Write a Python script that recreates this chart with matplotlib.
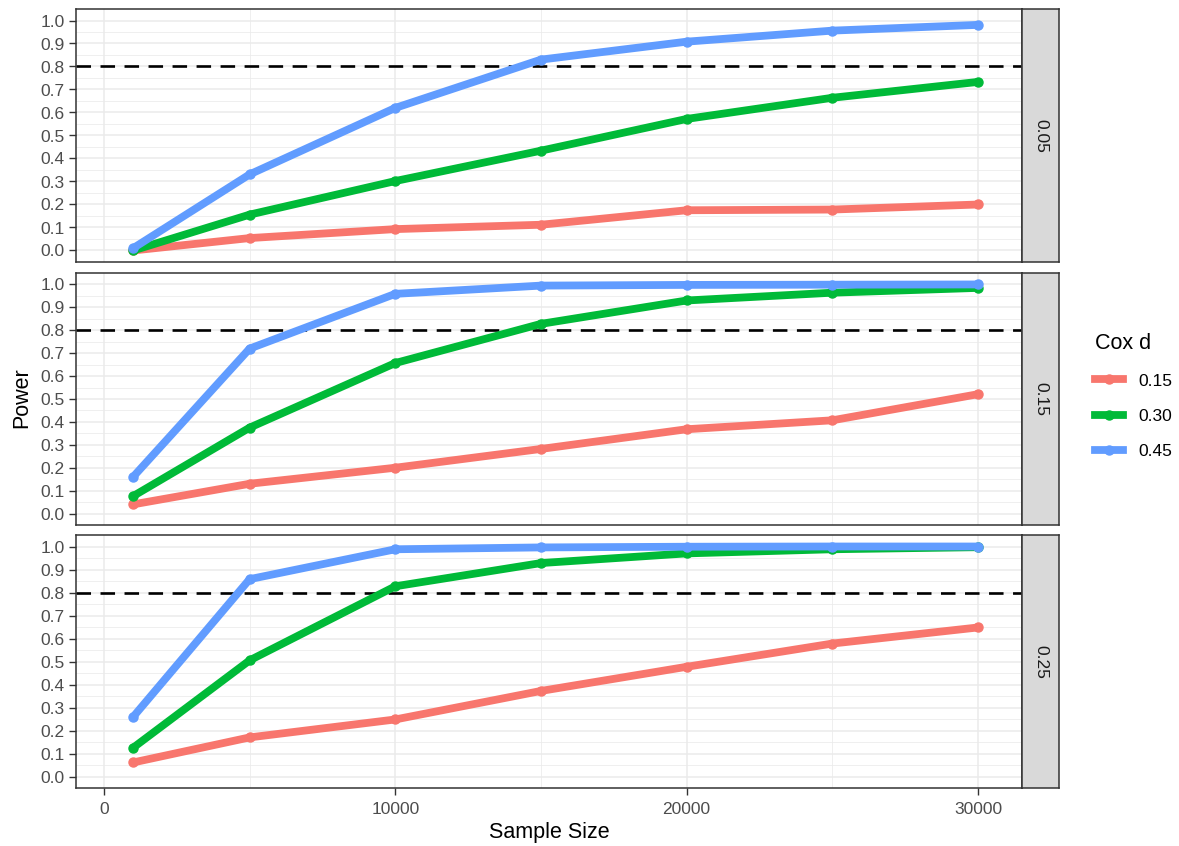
import matplotlib
matplotlib.use("Agg")
import matplotlib.pyplot as plt
from matplotlib.lines import Line2D
from matplotlib.ticker import MultipleLocator, FixedLocator

plt.rcParams['font.family'] = ['Liberation Sans', 'DejaVu Sans']

sample_size = [1000, 5000, 10000, 15000, 20000, 25000, 30000]
cox_d_labels = ["0.15", "0.30", "0.45"]
facet_labels = ["0.05", "0.15", "0.25"]
colors = ["#F8766D", "#00BA38", "#619CFF"]

# power for facet 0.05
p05_d015 = [0.00, 0.054, 0.093, 0.112, 0.175, 0.178, 0.200]
p05_d030 = [0.00, 0.156, 0.302, 0.434, 0.572, 0.664, 0.733]
p05_d045 = [0.01, 0.331, 0.620, 0.830, 0.908, 0.956, 0.981]
# power for facet 0.15
p15_d015 = [0.040, 0.130, 0.200, 0.282, 0.368, 0.407, 0.521]
p15_d030 = [0.076, 0.375, 0.657, 0.828, 0.930, 0.964, 0.985]
p15_d045 = [0.160, 0.720, 0.959, 0.995, 0.998, 0.999, 1.000]
# power for facet 0.25
p25_d015 = [0.061, 0.170, 0.248, 0.372, 0.477, 0.578, 0.648]
p25_d030 = [0.125, 0.505, 0.827, 0.928, 0.970, 0.988, 0.997]
p25_d045 = [0.259, 0.858, 0.988, 0.996, 0.999, 1.000, 1.000]

power = [
    [p05_d015, p05_d030, p05_d045],
    [p15_d015, p15_d030, p15_d045],
    [p25_d015, p25_d030, p25_d045],
]
threshold = 0.8

W, H = 1179, 846
fig = plt.figure(figsize=(W / 100, H / 100), dpi=100)

left_px, right_px = 76, 1022
strip_w = 37
panels_px = [(9, 262), (273, 525), (535, 788)]

grid_col = "#EBEBEB"
border_col = "#333333"
tick_col = "#4D4D4D"
fs_tick = 12.5
fs_title = 15.5

axes = []
for i, (t, b) in enumerate(panels_px):
    ax = fig.add_axes([left_px / W, 1 - b / H, (right_px - left_px) / W, (b - t) / H])
    axes.append(ax)
    ax.set_xlim(-960, 31510)
    ax.set_ylim(-0.05, 1.05)
    ax.xaxis.set_major_locator(FixedLocator([0, 10000, 20000, 30000]))
    ax.xaxis.set_minor_locator(FixedLocator([5000, 15000, 25000]))
    ax.yaxis.set_major_locator(MultipleLocator(0.1))
    ax.yaxis.set_minor_locator(FixedLocator([0.05 + 0.1 * k for k in range(10)]))
    ax.grid(which='major', color=grid_col, linewidth=1.1, zorder=0)
    ax.grid(which='minor', color=grid_col, linewidth=0.55, zorder=0)
    ax.set_axisbelow(True)
    for sp in ax.spines.values():
        sp.set_color(border_col)
        sp.set_linewidth(1.1)
    ax.tick_params(which='major', length=5, width=1.0, color=border_col,
                   labelsize=fs_tick, labelcolor=tick_col, pad=3)
    ax.tick_params(which='minor', length=0)
    ax.set_yticklabels([f"{v:.1f}" for v in ax.get_yticks()])
    if i < 2:
        ax.tick_params(axis='x', which='both', bottom=False, labelbottom=False)
    else:
        ax.tick_params(axis='x', pad=5)
        ax.set_xticklabels(["0", "10000", "20000", "30000"])

    ax.axhline(threshold, color="black", linewidth=1.9, linestyle=(0, (5.5, 3.6)), zorder=2)
    for j in range(3):
        ax.plot(sample_size, power[i][j], color=colors[j], linewidth=5.6,
                marker='o', markersize=6.5, solid_capstyle='butt', zorder=3 + j)

    # strip
    sax = fig.add_axes([right_px / W, 1 - b / H, strip_w / W, (b - t) / H])
    sax.set_facecolor("#D9D9D9")
    sax.set_xticks([])
    sax.set_yticks([])
    for sp in sax.spines.values():
        sp.set_color(border_col)
        sp.set_linewidth(1.1)
    sax.text(0.5, 0.5, facet_labels[i], rotation=-90, ha='center', va='center',
             fontsize=fs_tick, color="#1A1A1A", transform=sax.transAxes)

fig.text(22 / W, 1 - 398 / H, "Power", rotation=90, ha='center', va='center',
         fontsize=fs_title, color="black")
fig.text((left_px + right_px) / 2 / W, 1 - 832 / H, "Sample Size", ha='center',
         va='center', fontsize=fs_title, color="black")

handles = [Line2D([0], [0], color=c, linewidth=5.6, marker='o', markersize=6.5)
           for c in colors]
leg = fig.legend(handles, cox_d_labels, title="Cox d", loc='upper left',
                 bbox_to_anchor=(1088 / W, 1 - 326 / H), frameon=False,
                 fontsize=fs_tick, title_fontsize=fs_title, handlelength=1.6,
                 labelspacing=1.15, handletextpad=0.9, borderaxespad=0)
leg._legend_box.align = "left"
leg._legend_box.sep = 14

fig.savefig("out.png", dpi=100)
